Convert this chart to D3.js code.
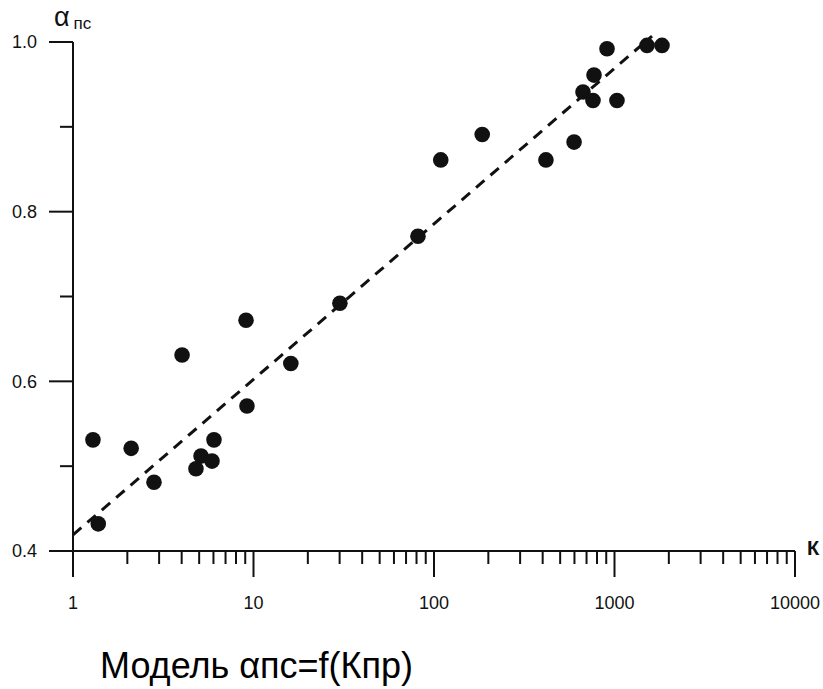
<!DOCTYPE html>
<html>
<head>
<meta charset="utf-8">
<script src="https://cdn.jsdelivr.net/npm/d3@7"></script>
<style>
  body { margin: 0; background: #fff; }
  svg { display: block; font-family: "Liberation Sans", Arial, sans-serif; }
</style>
</head>
<body>
<svg id="chart" width="823" height="689"></svg>
<script>
// measured points: K_pr (log axis) and alpha_pc
const kpr = [1.29, 1.38, 2.1, 2.81, 4.02, 4.8, 5.12, 5.89, 6.04, 9.09, 9.2, 16.1, 30.1, 81.5,
             109, 185, 417, 597, 669, 760, 770, 909, 1032, 1514, 1833];
const alpha = [0.531, 0.432, 0.521, 0.481, 0.631, 0.497, 0.512, 0.506, 0.531, 0.672, 0.571, 0.621, 0.692, 0.771,
               0.861, 0.891, 0.861, 0.882, 0.941, 0.931, 0.961, 0.992, 0.931, 0.996, 0.996];

// regression line ends
const fitK = [1, 1614];
const fitA = [0.419, 1.007];

const xMajor = [1, 10, 100, 1000, 10000];
const xLabels = ["1", "10", "100", "1000", "10000"];
const yMajor = [0.4, 0.6, 0.8, 1.0];
const yMinor = [0.5, 0.7, 0.9];
const yLabels = ["0.4", "0.6", "0.8", "1.0"];

const svg = d3.select("#chart");

const x = d3.scaleLog().domain([1, 10000]).range([73, 795]);
const y = d3.scaleLinear().domain([0.4, 1.0]).range([551, 42]);

// minor ticks of the log axis: 2..9 in every decade
const xMinor = [];
xMajor.slice(0, -1).forEach(d => { for (let m = 2; m <= 9; m++) xMinor.push(d * m); });

const ink = "#111";

// x axis
const gx = svg.append("g").attr("transform", `translate(0,${y(0.4)})`);
gx.append("line")
    .attr("x1", 49).attr("x2", x(10000))
    .attr("stroke", ink).attr("stroke-width", 2);
gx.selectAll("line.minor")
  .data(xMinor)
  .join("line")
    .attr("class", "minor")
    .attr("x1", d => x(d)).attr("x2", d => x(d))
    .attr("y1", 0).attr("y2", 13)
    .attr("stroke", ink).attr("stroke-width", 2);
gx.selectAll("line.major")
  .data(xMajor)
  .join("line")
    .attr("class", "major")
    .attr("x1", d => x(d)).attr("x2", d => x(d))
    .attr("y1", 0).attr("y2", 26)
    .attr("stroke", ink).attr("stroke-width", 2);
gx.selectAll("text")
  .data(xMajor)
  .join("text")
    .attr("x", d => x(d))
    .attr("y", 58)
    .attr("text-anchor", "middle")
    .attr("font-size", 18)
    .attr("fill", ink)
    .text((d, i) => xLabels[i]);

// y axis
const gy = svg.append("g").attr("transform", `translate(${x(1)},0)`);
gy.append("line")
    .attr("y1", y(1.0)).attr("y2", y(0.4) + 26)
    .attr("stroke", ink).attr("stroke-width", 2);
gy.selectAll("line.major")
  .data(yMajor)
  .join("line")
    .attr("class", "major")
    .attr("x1", -24).attr("x2", 0)
    .attr("y1", d => y(d)).attr("y2", d => y(d))
    .attr("stroke", ink).attr("stroke-width", 2);
gy.selectAll("line.minor")
  .data(yMinor)
  .join("line")
    .attr("class", "minor")
    .attr("x1", -13).attr("x2", 0)
    .attr("y1", d => y(d)).attr("y2", d => y(d))
    .attr("stroke", ink).attr("stroke-width", 2);
gy.selectAll("text")
  .data(yMajor)
  .join("text")
    .attr("x", -36)
    .attr("y", d => y(d))
    .attr("dy", "0.36em")
    .attr("text-anchor", "end")
    .attr("font-size", 18)
    .attr("fill", ink)
    .text((d, i) => yLabels[i]);

// axis names
const yName = svg.append("text").attr("x", 54).attr("y", 26).attr("fill", ink);
yName.append("tspan").attr("font-size", 27).text("α");
yName.append("tspan").attr("dx", 4).attr("dy", 3).attr("font-size", 17).text("пс");

svg.append("text")
    .attr("x", 807).attr("y", 555)
    .attr("font-size", 20).attr("font-weight", "bold")
    .attr("fill", ink)
    .text("К");

// regression line
const line = d3.line().x(d => x(d[0])).y(d => y(d[1]));
svg.append("path")
    .attr("d", line(d3.zip(fitK, fitA)))
    .attr("fill", "none")
    .attr("stroke", ink)
    .attr("stroke-width", 3)
    .attr("stroke-dasharray", "11,8");

// points
svg.append("g")
  .selectAll("circle")
  .data(d3.zip(kpr, alpha))
  .join("circle")
    .attr("cx", d => x(d[0]))
    .attr("cy", d => y(d[1]))
    .attr("r", 7.8)
    .attr("fill", ink);

// caption
svg.append("text")
    .attr("x", 100).attr("y", 678)
    .attr("font-size", 36)
    .attr("fill", "#000")
    .text("Модель αпс=f(Кпр)");
</script>
</body>
</html>
